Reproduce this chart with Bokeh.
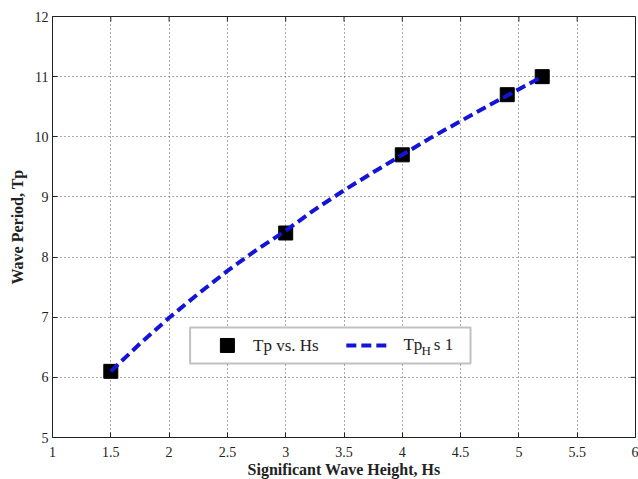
import math
from bokeh.plotting import figure
from bokeh.models import BoxAnnotation, Label, FixedTicker, Range1d
from bokeh.embed import file_html
from bokeh.resources import INLINE

# ---- data ----
hs = [1.5, 3.0, 4.0, 4.9, 5.2]
tp = [6.1, 8.4, 9.7, 10.7, 11.0]

# fitted curve
hs_fit = [1.5, 1.75, 2.0, 2.25, 2.5, 2.75, 3.0, 3.25, 3.5, 3.75, 4.0, 4.25, 4.5, 4.75, 5.0, 5.2]
tp_fit = [6.10, 6.56, 6.99, 7.39, 7.77, 8.12, 8.44, 8.79, 9.11, 9.41, 9.70, 9.99, 10.26, 10.53, 10.79, 11.0]

x_ticks = [1, 1.5, 2, 2.5, 3, 3.5, 4, 4.5, 5, 5.5, 6]
y_ticks = [5, 6, 7, 8, 9, 10, 11, 12]
x_min, x_max = 1, 6
y_min, y_max = 5, 12

FONT = "Liberation Serif"
BLUE = "#1414d8"

p = figure(frame_width=583, frame_height=421,
           x_range=Range1d(x_min, x_max), y_range=Range1d(y_min, y_max),
           output_backend="svg", toolbar_location=None,
           min_border_left=52, min_border_top=16, min_border_right=3, min_border_bottom=0,
           outline_line_color="#222222", outline_line_width=1)

p.xaxis.axis_label = "Significant Wave Height, Hs"
p.yaxis.axis_label = "Wave Period, Tp"
p.xaxis.ticker = FixedTicker(ticks=x_ticks)
p.yaxis.ticker = FixedTicker(ticks=y_ticks)
for ax in (p.xaxis, p.yaxis):
    ax.major_tick_in = 5
    ax.major_tick_out = 0
    ax.minor_tick_line_color = None
    ax.axis_line_color = "#222222"
    ax.major_tick_line_color = "#222222"
    ax.major_label_text_font = FONT
    ax.major_label_text_font_size = "14px"
    ax.major_label_text_color = "#222222"
    ax.axis_label_text_font = FONT
    ax.axis_label_text_font_style = "bold"
    ax.axis_label_text_font_size = "16px"
    ax.axis_label_text_color = "#222222"
p.xaxis.major_label_standoff = 9
p.xaxis.axis_label_standoff = 1
p.yaxis.major_label_standoff = 4
p.yaxis.axis_label_standoff = 6

p.grid.grid_line_color = "#555555"
p.grid.grid_line_dash = "1 3"
p.grid.grid_line_width = 1

# inward ticks on the top and right edges of the box
p.scatter(x_ticks, [y_max] * len(x_ticks), marker="dash", size=10, angle=math.pi / 2,
          line_color="#222222", line_width=1)
p.scatter([x_max] * len(y_ticks), y_ticks, marker="dash", size=10,
          line_color="#222222", line_width=1)

p.scatter(hs, tp, marker="square", size=14, fill_color="black", line_color="black")
p.line(hs_fit, tp_fit, line_color=BLUE, line_width=4, line_dash="10 5")

# ---- legend (manual, to allow subscript) ----
p.add_layout(BoxAnnotation(left=2.18, right=4.585, bottom=6.23, top=6.83,
                           fill_color="white", fill_alpha=1.0,
                           line_color="#333333", line_width=2, level="glyph"))
p.scatter([2.5], [6.53], marker="square", size=14, fill_color="black",
          line_color="black", level="overlay")
p.line([3.52, 3.90], [6.53, 6.53], line_color=BLUE, line_width=4,
       line_dash="10 5", level="overlay")
lab_kw = dict(text_font=FONT, text_font_size="17px", text_color="#222222",
              text_baseline="middle")
p.add_layout(Label(x=2.72, y=6.53, text="Tp vs. Hs", **lab_kw))
p.add_layout(Label(x=4.01, y=6.55, text="Tp", **lab_kw))
p.add_layout(Label(x=4.165, y=6.45, text="H", text_font=FONT, text_font_size="13px",
                   text_color="#222222", text_baseline="middle"))
p.add_layout(Label(x=4.27, y=6.55, text="s 1", **lab_kw))

open("out.html", "w").write(file_html(p, INLINE))
